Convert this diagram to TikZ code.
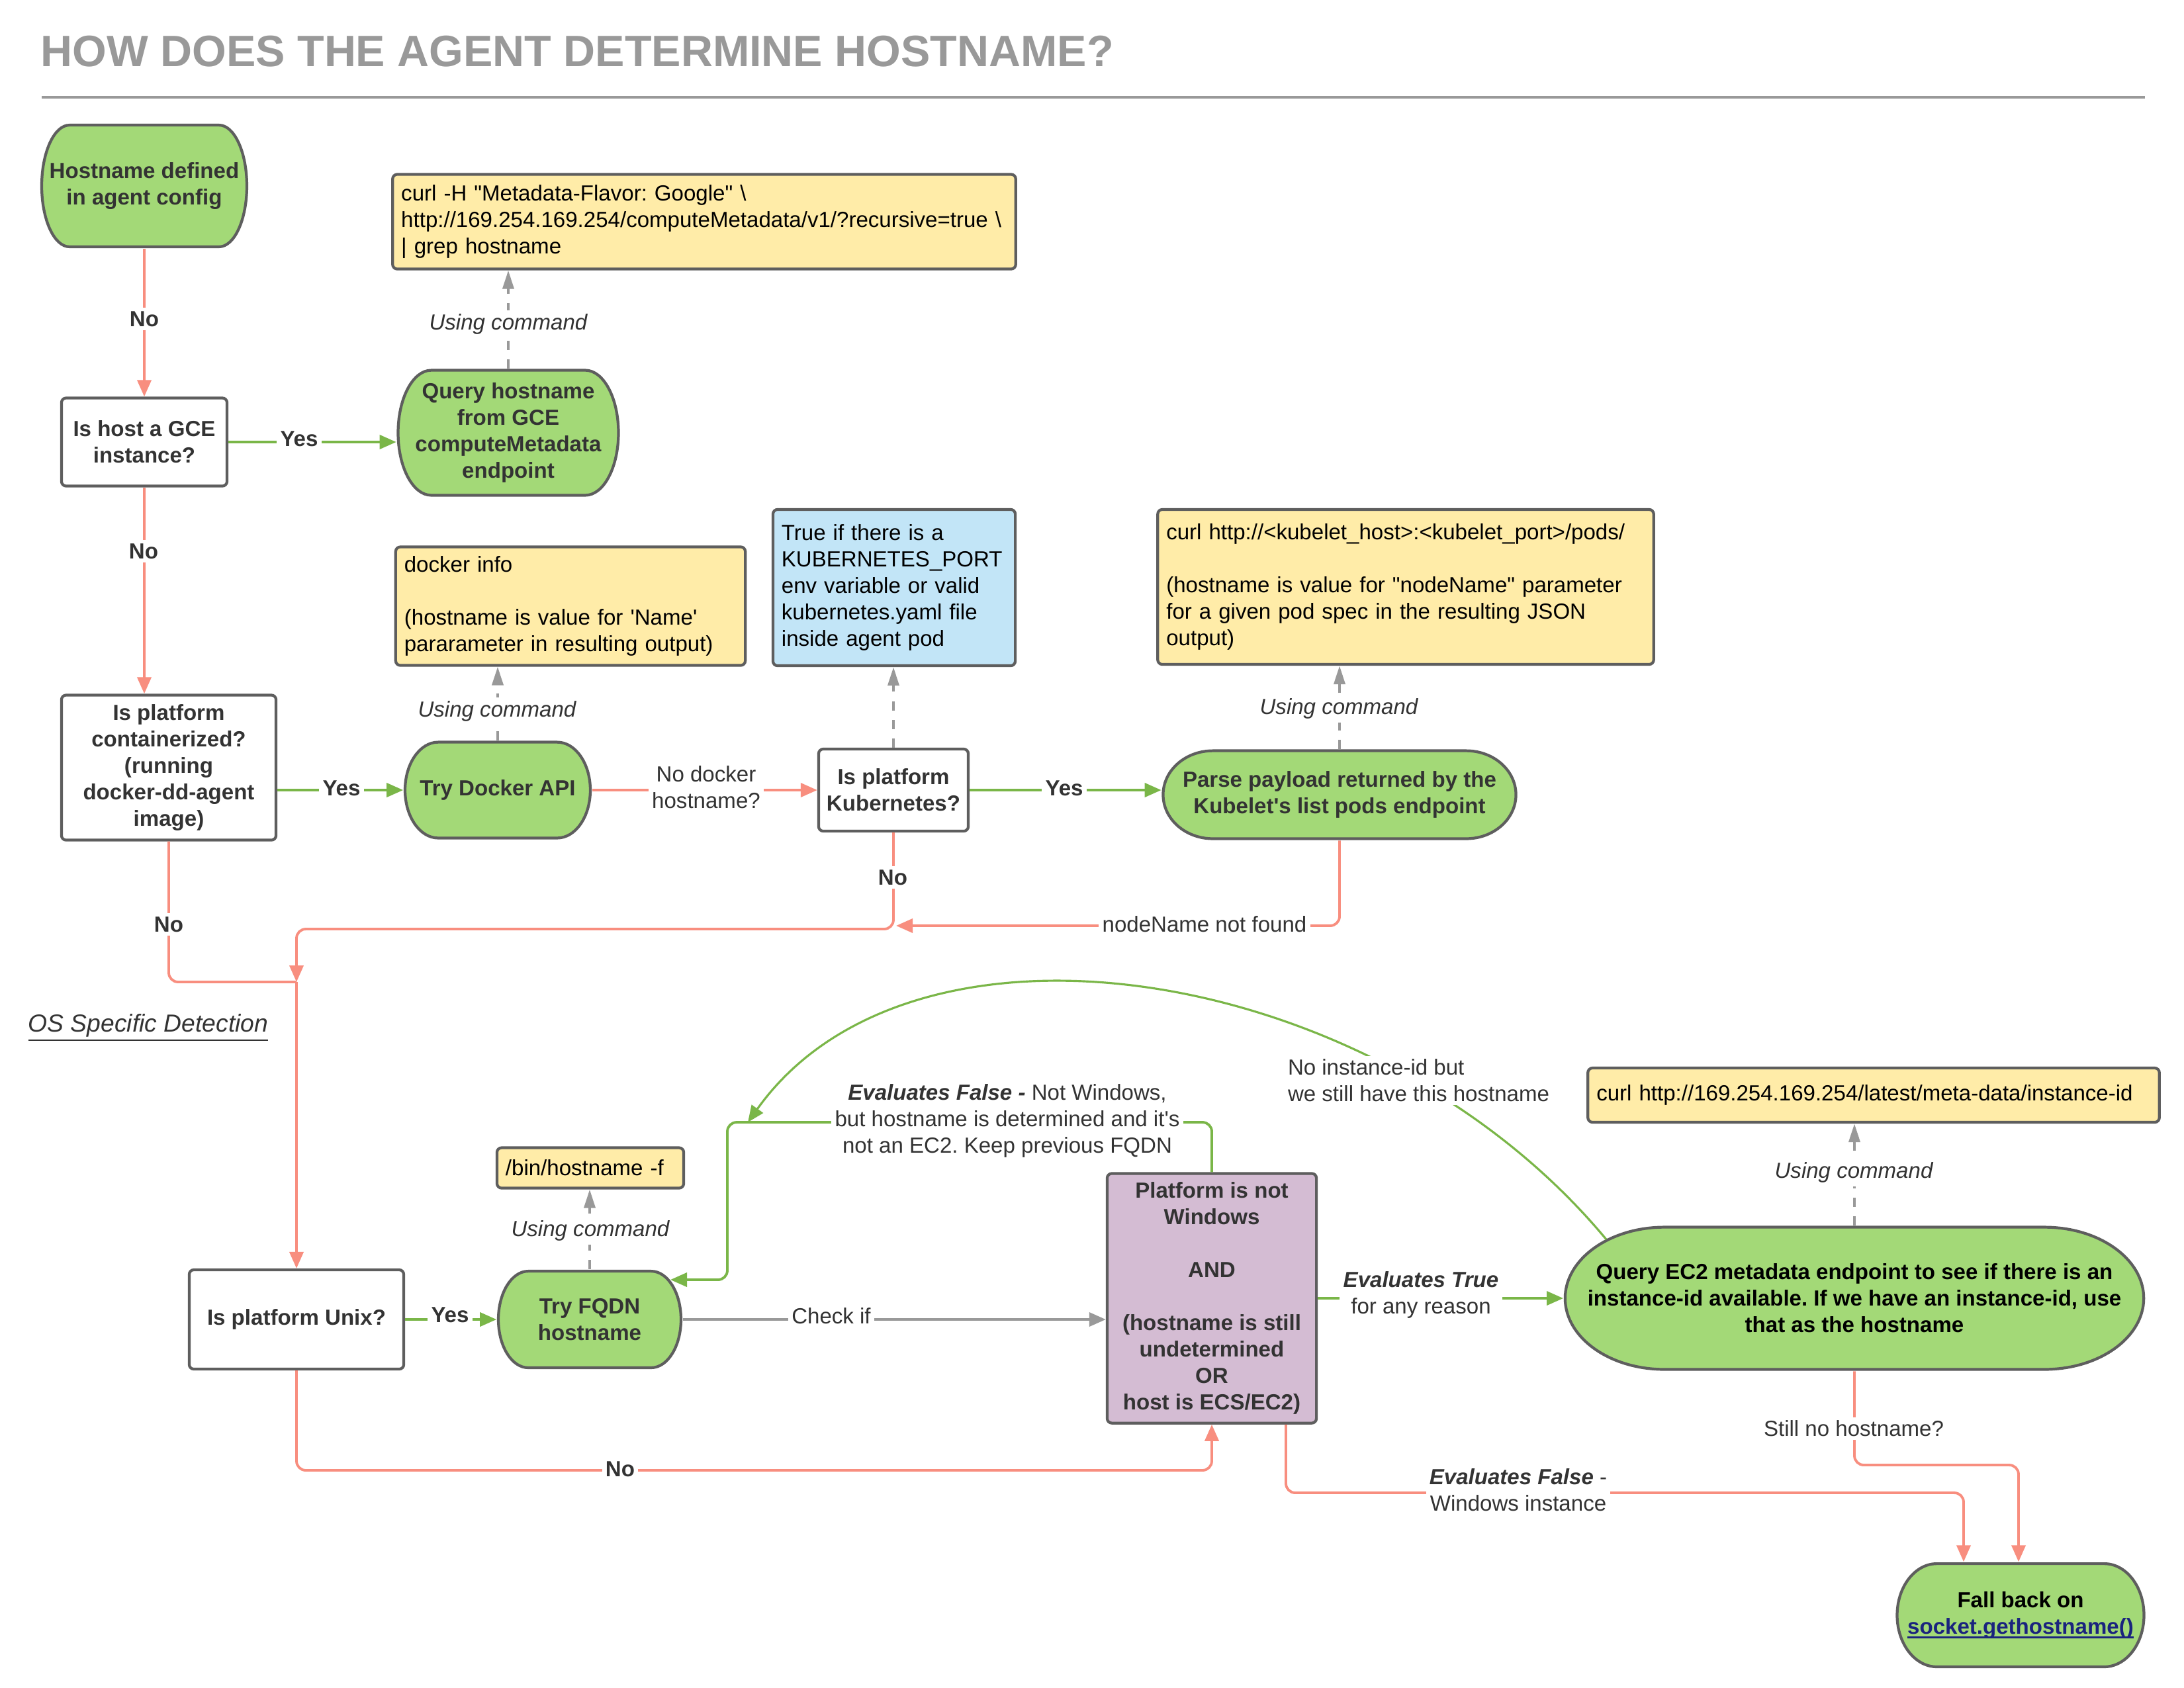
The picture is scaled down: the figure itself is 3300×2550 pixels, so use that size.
\documentclass[tikz,border=0pt]{standalone}
\usepackage{fontspec}
\setmainfont{Liberation Sans}
\newfontfamily\lsans{Liberation Sans}
\usetikzlibrary{arrows.meta,calc}
\definecolor{tgreen}{HTML}{A3D977}
\definecolor{yel}{HTML}{FFECA8}
\definecolor{blu}{HTML}{C2E5F7}
\definecolor{pur}{HTML}{D4BCD3}
\definecolor{bord}{HTML}{5E5E5E}
\definecolor{lred}{HTML}{F88E7F}
\definecolor{lgreen}{HTML}{7AB648}
\definecolor{lgray}{HTML}{999999}
\definecolor{txt}{HTML}{333333}
\definecolor{ttl}{HTML}{999999}
\definecolor{navy}{HTML}{1A237E}
\newcommand\fs{\lsans\frenchspacing\fontsize{9.4pt}{11.4pt}\selectfont}
\newcommand\ml[1]{\mbox{#1}}
\newcommand\myul[1]{\setbox0\hbox{#1}\rlap{\rule[-1.8pt]{\wd0}{0.7pt}}#1}
\tikzset{
  tip/.style={-{Triangle[length=0.25cm,width=0.21cm]}},
  tipg/.style={-{Triangle[length=0.28cm,width=0.17cm]}},
  rl/.style={draw=lred,line width=1.1pt,rounded corners=4pt},
  gl/.style={draw=lgreen,line width=1.1pt,rounded corners=4pt},
  dl/.style={draw=lgray,line width=1.1pt,dash pattern=on 4pt off 4pt},
  sl/.style={draw=lgray,line width=1.1pt},
  box/.style={rectangle,draw=bord,line width=1.2pt,rounded corners=2pt,fill=white,
    align=center,font=\fs\bfseries,text=txt,inner sep=0pt},
  ybox/.style={rectangle,draw=bord,line width=1.2pt,rounded corners=2pt,fill=yel,
    align=left,font=\fs,text=black,inner xsep=0.13cm,inner ysep=0pt},
  term/.style={rectangle,inner sep=0pt,align=center,font=\fs\bfseries,text=txt,
    path picture={\path[fill=tgreen,draw=bord,line width=1.2pt]
      let \p1=(path picture bounding box.south west),
          \p2=(path picture bounding box.north east),
          \n1={#1}, \n2={(\y2-\y1)/2-0.6pt} in
      (\x1+\n1+0.6pt,\y2-0.6pt) -- (\x2-\n1-0.6pt,\y2-0.6pt)
      arc[start angle=90,end angle=-90,x radius=\n1,y radius=\n2]
      -- (\x1+\n1+0.6pt,\y1+0.6pt)
      arc[start angle=270,end angle=90,x radius=\n1,y radius=\n2] -- cycle;}},
  lbl/.style={fill=white,text=txt,inner sep=1.5pt,font=\fs,align=center},
  blbl/.style={lbl,font=\fs\bfseries},
  ilbl/.style={lbl,font=\fs\itshape},
}
\begin{document}
\begin{tikzpicture}[x=0.01cm,y=-0.01cm]
\fill[white] (0,0) rectangle (3300,2550);
\useasboundingbox (0,0) rectangle (3300,2550);

% title
\node[anchor=west,inner sep=0pt,text=ttl,font=\lsans\fontsize{18.9pt}{22pt}\selectfont\bfseries] (title) at (61,78) {HOW DOES THE AGENT DETERMINE HOSTNAME?};
\coordinate (r1) at (63,147);
\coordinate (r2) at (3241,147);
\draw[ttl,line width=1pt] (r1) -- (r2);

\node[anchor=west,inner sep=0pt,text=txt,font=\lsans\fontsize{10.6pt}{12.6pt}\selectfont\itshape] (os) at (42,1553) {\underline{OS Specific Detection}};

% nodes
\node[term=0.42cm,minimum width=3.14cm,minimum height=1.88cm] (A) at (218,281) {Hostname defined\\in agent config};
\node[box,minimum width=2.5cm,minimum height=1.33cm] (B) at (218,668) {Is host a GCE\\instance?};
\node[term=0.5cm,minimum width=3.37cm,minimum height=1.93cm] (C) at (768,654) {Query hostname\\from GCE\\computeMetadata\\endpoint};
\node[ybox,text width=9.15cm,minimum height=1.43cm] (D) at (1064,335) {\ml{curl -H "Metadata-Flavor: Google" \textbackslash}\\\ml{http://169.254.169.254/computeMetadata/v1/?recursive=true \textbackslash}\\\ml{| grep hostname}};
\node[box,minimum width=3.24cm,minimum height=2.19cm] (E) at (255,1160) {Is platform\\containerized?\\(running\\docker-dd-agent\\image)};
\node[term=0.5cm,minimum width=2.84cm,minimum height=1.49cm] (F) at (752,1194) {Try Docker API};
\node[ybox,text width=5.02cm,minimum height=1.79cm] (G) at (862,916) {\ml{docker info}\\[11.4pt]\ml{(hostname is value for 'Name'}\\\ml{pararameter in resulting output)}};
\node[box,minimum width=2.26cm,minimum height=1.24cm] (H) at (1350,1194) {Is platform\\Kubernetes?};
\node[ybox,fill=blu,text width=3.40cm,minimum height=2.36cm] (I) at (1351,888) {\ml{True if there is a}\\\ml{KUBERNETES\_PORT}\\\ml{env variable or valid}\\\ml{kubernetes.yaml file}\\\ml{inside agent pod}};
\node[term=0.75cm,minimum width=5.37cm,minimum height=1.37cm] (J) at (2024,1201) {Parse payload returned by the\\Kubelet's list pods endpoint};
\node[ybox,text width=7.23cm,minimum height=2.34cm] (K) at (2124,887) {\ml{curl http://<kubelet\_host>:<kubelet\_port>/pods/}\\[11.4pt]\ml{(hostname is value for "nodeName" parameter}\\\ml{for a given pod spec in the resulting JSON}\\\ml{output)}};
\node[box,minimum width=3.24cm,minimum height=1.50cm] (L) at (448,1994) {Is platform Unix?};
\node[term=0.45cm,minimum width=2.80cm,minimum height=1.50cm] (M) at (891,1994) {Try FQDN\\hostname};
\node[ybox,text width=2.56cm,minimum height=0.61cm] (N) at (892,1765) {\ml{/bin/hostname -f}};
\node[box,fill=pur,minimum width=3.16cm,minimum height=3.77cm] (O) at (1831,1962) {Platform is not\\Windows\\[11.4pt]AND\\[11.4pt](hostname is still\\undetermined\\OR\\host is ECS/EC2)};
\node[term=1.5cm,minimum width=8.78cm,minimum height=2.19cm,text=black] (P) at (2802,1962) {Query EC2 metadata endpoint to see if there is an\\instance-id available. If we have an instance-id, use\\that as the hostname};
\node[ybox,text width=8.37cm,minimum height=0.82cm] (Q) at (2831,1655) {\ml{curl http://169.254.169.254/latest/meta-data/instance-id}};
\node[term=0.6cm,minimum width=3.77cm,minimum height=1.60cm,text=black] (R) at (3053,2441) {Fall back on\\\textcolor{navy}{\myul{socket.gethostname()}}};

% coordinates
\coordinate (hl) at (448,1404);
\coordinate (jn) at (448,1484);
\coordinate (hj) at (1354,1399);
\coordinate (ef) at (1099,1696);
\coordinate (mi) at (1013,1934);
\coordinate (cs) at (2427,1873);
\coordinate (ce) at (1130,1696);
\coordinate (ln) at (1831,2222);
\coordinate (ob) at ($(O.south)+(112,0)$);
\coordinate (rw) at (2967,2256);
\coordinate (rs) at (3050,2214);

% connectors
\draw[rl,tip] (A.south) -- (B.north);
\draw[rl,tip] (B.south) -- (B.south |- E.north);
\draw[gl,tip] (B.east) -- (B.east -| C.west);
\draw[dl,tipg] (C.north) -- (C.north |- D.south);
\draw[gl,tip] (E.east |- F.west) -- (F.west);
\draw[dl,tipg] (F.north) -- (F.north |- G.south);
\draw[rl,tip] (F.east) -- (H.west);
\draw[dl,tipg] (H.north) -- (H.north |- I.south);
\draw[gl,tip] (H.east) -- (H.east -| J.west);
\draw[dl,tipg] (J.north) -- (J.north |- K.south);
\draw[rl,tip] (H.south) |- (hl) -- (jn);
\draw[rl] (E.south) |- (jn);
\draw[rl,tip] (J.south) |- (hj);
\draw[rl,tip] (jn) -- (L.north);
\draw[gl,tip] (L.east) -- (M.west);
\draw[dl,tipg] (M.north) -- (M.north |- N.south);
\draw[sl,tip] (M.east) -- (M.east -| O.west);
\draw[gl,tip] (O.east) -- (P.west);
\draw[dl,tipg] (P.north) -- (P.north |- Q.south);
\draw[gl,tip] (O.north) |- (ef) |- (mi);
\draw[draw=lgreen,line width=0.9pt,tip] (cs) .. controls (2080,1455) and (1380,1345) .. (ce);
\draw[rl,tip] (L.south) |- (ln) -- (O.south);
\draw[rl,tip] (ob) |- (rw) -- (rw |- R.north);
\draw[rl,tip] (P.south) |- (rs) -- (rs |- R.north);

% labels
\node[blbl] (t1) at (218,482) {No};
\node[blbl] (t2) at (452,663) {Yes};
\node[ilbl] (t3) at (768,490) {Using command};
\node[blbl] (t4) at (217,833) {No};
\node[blbl] (t5) at (516,1191) {Yes};
\node[ilbl] (t6) at (751,1075) {Using command};
\node[lbl] (t7) at (1067,1190) {No docker\\hostname?};
\node[blbl] (t8) at (1608,1191) {Yes};
\node[ilbl] (t9) at (2023,1071) {Using command};
\node[blbl] (t10) at (1349,1326) {No};
\node[lbl] (t11) at (1820,1397) {nodeName not found};
\node[blbl] (t12) at (255,1397) {No};
\node[blbl] (t13) at (680,1987) {Yes};
\node[ilbl] (t14) at (892,1860) {Using command};
\node[lbl] (t15) at (1256,1989) {Check if};
\node[lbl] (t16) at (1522,1694) {\textbf{\textit{Evaluates False -}} Not Windows,\\but hostname is determined and it's\\not an EC2. Keep previous FQDN};
\node[lbl,anchor=west,align=left] (t17) at (1940,1633) {No instance-id but\\we still have this hostname};
\node[lbl] (t18) at (2147,1957) {\textbf{\textit{Evaluates True}}\\for any reason};
\node[ilbl] (t19) at (2801,1772) {Using command};
\node[lbl] (t20) at (2801,2159) {Still no hostname?};
\node[blbl] (t21) at (937,2220) {No};
\node[lbl] (t22) at (2294,2252) {\textbf{\textit{Evaluates False}} -\\Windows instance};
\end{tikzpicture}
\end{document}
